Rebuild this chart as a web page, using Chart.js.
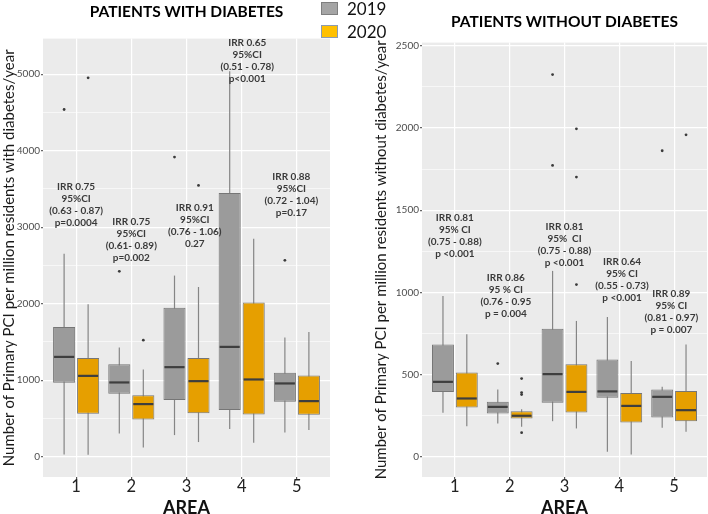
<!DOCTYPE html>
<html>
<head>
<meta charset="utf-8">
<script src="https://cdn.jsdelivr.net/npm/chart.js@4.4.1/dist/chart.umd.min.js"></script>
<style>
  body { margin: 0; background: #fff; width: 708px; height: 514px; position: relative; overflow: hidden; font-family: Lato, sans-serif; }
  #left { position: absolute; left: 0; top: 0; }
  #right { position: absolute; left: 360px; top: 0; }
  #legend { position: absolute; left: 321px; top: 1px; z-index: 2; font-size: 17px; color: #111; }
  .item { display: flex; align-items: center; height: 15px; margin-bottom: 8px; }
  .swatch { width: 17px; height: 13px; margin-right: 9px; box-sizing: border-box; }
</style>
</head>
<body>
<canvas id="left" width="336" height="514"></canvas>
<canvas id="right" width="348" height="514"></canvas>
<div id="legend"></div>
<script>
const areas = [1, 2, 3, 4, 5]
const years = ['2019', '2020']

// patients with diabetes (per million residents / year)
const dmLow19 = [30, 305, 283, 361, 318]
const dmQ1_19 = [966, 823, 740, 610, 718]
const dmMed19 = [1305, 971, 1171, 1436, 958]
const dmQ3_19 = [1697, 1210, 1946, 3447, 1097]
const dmHigh19 = [2655, 1428, 2368, 5039, 1559]
const dmOut19 = [[4539], [2424], [3917], [], [2568]]

const dmLow20 = [26, 122, 192, 183, 349]
const dmQ1_20 = [561, 488, 570, 553, 549]
const dmMed20 = [1057, 688, 988, 1010, 727]
const dmQ3_20 = [1292, 805, 1292, 2015, 1063]
const dmHigh20 = [1993, 1141, 2219, 2851, 1632]
const dmOut20 = [[4953], [1523], [3547], [], []]

// patients without diabetes
const noLow19 = [269, 204, 218, 32, 178]
const noQ1_19 = [396, 265, 330, 360, 241]
const noMed19 = [457, 305, 504, 399, 366]
const noQ3_19 = [684, 336, 779, 593, 411]
const noHigh19 = [979, 411, 1131, 851, 427]
const noOut19 = [[], [568], [2324, 1772], [], [1861]]

const noLow20 = [188, 184, 174, 16, 154]
const noQ1_20 = [301, 235, 271, 210, 218]
const noMed20 = [356, 251, 396, 311, 285]
const noQ3_20 = [514, 279, 564, 390, 402]
const noHigh20 = [746, 291, 827, 583, 684]
const noOut20 = [[], [477, 392, 380, 148], [1994, 1701, 1048], [], [1958]]

const dmTicks = [0, 1000, 2000, 3000, 4000, 5000]
const noTicks = [0, 500, 1000, 1500, 2000, 2500]

const dmNotes = [
  ['IRR 0.75', '95%CI', '(0.63 - 0.87)', 'p=0.0004'],
  ['IRR 0.75', '95%CI', '(0.61- 0.89)', 'p=0.002'],
  ['IRR 0.91', '95%CI', '(0.76 - 1.06)', '0.27'],
  ['IRR 0.65', '95%CI', '(0.51 - 0.78)', 'p<0.001'],
  ['IRR 0.88', '95%CI', '(0.72 - 1.04)', 'p=0.17']
]
const noNotes = [
  ['IRR 0.81', '95% CI', '(0.75 - 0.88)', 'p <0.001'],
  ['IRR 0.86', '95 % CI', '(0.76 - 0.95', 'p = 0.004'],
  ['IRR 0.81', '95%  CI', '(0.75 - 0.88)', 'p <0.001'],
  ['IRR 0.64', '95% CI', '(0.55 - 0.73)', 'p <0.001'],
  ['IRR 0.89', '95% CI', '(0.81 - 0.97)', 'p = 0.007']
]
// where each note block sits (top line), in axis units
const dmNoteY = [3534, 3077, 3257, 5413, 3664]
const dmNoteDx = [0, 0, 0.15, 0.1, -0.1]
const noNoteY = [1456, 1092, 1402, 1189, 995]
const noNoteDx = [0, -0.07, 0, 0.05, -0.05]

const fills = ['#9b9b9b', '#e69f00']
const swatches = [['#a5a5a5', '#7f7f7f'], ['#ffc000', '#8c9bb0']]

// legend
document.getElementById('legend').innerHTML = years.map((y, i) =>
  `<div class="item"><span class="swatch" style="background:${swatches[i][0]};border:1px solid ${swatches[i][1]}"></span>${y}</div>`
).join('')

const boxParts = {
  id: 'boxParts',
  beforeDraw (chart) {
    const { ctx, chartArea: a } = chart
    ctx.save()
    ctx.fillStyle = '#ebebeb'
    ctx.fillRect(a.left, a.top, a.width, a.height)
    ctx.restore()
  },
  beforeDatasetsDraw (chart) {
    const { ctx } = chart
    const y = chart.scales.y
    ctx.save()
    ctx.strokeStyle = '#858585'
    ctx.lineWidth = 1.2
    chart.data.datasets.forEach((ds, d) => {
      chart.getDatasetMeta(d).data.forEach((bar, i) => {
        ctx.beginPath()
        ctx.moveTo(bar.x, y.getPixelForValue(ds.low[i]))
        ctx.lineTo(bar.x, y.getPixelForValue(ds.high[i]))
        ctx.stroke()
      })
    })
    ctx.restore()
  },
  afterDatasetsDraw (chart) {
    const { ctx } = chart
    const y = chart.scales.y
    ctx.save()
    chart.data.datasets.forEach((ds, d) => {
      chart.getDatasetMeta(d).data.forEach((bar, i) => {
        const half = bar.width / 2 - 1
        const py = y.getPixelForValue(ds.med[i])
        ctx.strokeStyle = '#3e3e3e'
        ctx.lineWidth = 2.2
        ctx.beginPath()
        ctx.moveTo(bar.x - half, py)
        ctx.lineTo(bar.x + half, py)
        ctx.stroke()
        ctx.fillStyle = '#3a3a3a'
        ds.out[i].forEach(v => {
          ctx.beginPath()
          ctx.arc(bar.x, y.getPixelForValue(v), 1.4, 0, Math.PI * 2)
          ctx.fill()
        })
      })
    })
    ctx.restore()
  },
  afterDraw (chart) {
    const { ctx } = chart
    const notes = chart.options.plugins.boxParts
    const x = chart.scales.x
    const y = chart.scales.y
    ctx.save()
    ctx.font = 'bold 10px Lato'
    ctx.fillStyle = '#3a3a3a'
    ctx.textAlign = 'center'
    ctx.textBaseline = 'middle'
    notes.text.forEach((lines, i) => {
      const px = x.getPixelForValue(areas[i] + notes.dx[i])
      const py = y.getPixelForValue(notes.y[i])
      lines.forEach((t, k) => ctx.fillText(t, px, py + k * 12))
    })
    ctx.restore()
  }
}

function makeSets (q1s, q3s, meds, lows, highs, outs) {
  return years.map((yr, s) => ({
    label: yr,
    data: areas.map((a, i) => [q1s[s][i], q3s[s][i]]),
    med: meds[s],
    low: lows[s],
    high: highs[s],
    out: outs[s],
    backgroundColor: fills[s],
    borderColor: '#767676',
    borderWidth: 1,
    borderSkipped: false,
    categoryPercentage: 0.87,
    barPercentage: 0.92
  }))
}

function makeChart (id, opts) {
  const majors = opts.ticks
  return new Chart(document.getElementById(id), {
    type: 'bar',
    data: {
      labels: areas,
      datasets: opts.datasets
    },
    plugins: [boxParts],
    options: {
      responsive: false,
      animation: false,
      devicePixelRatio: 1,
      layout: { padding: { left: 0, right: opts.padRight, top: 0, bottom: 0 } },
      plugins: {
        legend: { display: false },
        tooltip: { enabled: false },
        title: {
          display: true,
          text: opts.title,
          fullSize: false,
          color: '#000',
          font: { family: 'Lato', size: 15.5, weight: 'bold' },
          padding: opts.titlePad
        },
        boxParts: { text: opts.notes, y: opts.noteY, dx: opts.noteDx }
      },
      scales: {
        x: {
          type: 'linear',
          min: 0.4,
          max: 5.6,
          offset: false,
          afterBuildTicks: s => { s.ticks = areas.map(v => ({ value: v })) },
          afterFit: s => { s.height = 37 },
          grid: { offset: false, color: '#ffffff', lineWidth: 1.2, tickColor: '#555', tickLength: 2 },
          border: { display: false },
          ticks: { color: '#222', padding: -2, font: { family: 'Lato', size: 16.5 }, callback: v => String(v) },
          title: {
            display: true,
            text: 'AREA',
            color: '#111',
            font: { family: 'Lato', size: 18, weight: 'bold' },
            padding: { top: 0, bottom: -5 }
          }
        },
        y: {
          min: opts.min,
          max: opts.max,
          stacked: false,
          afterBuildTicks: s => {
            const step = majors[1] - majors[0]
            s.ticks = []
            majors.forEach(v => {
              s.ticks.push({ value: v, major: true })
              if (v + step / 2 < opts.max) s.ticks.push({ value: v + step / 2, major: false })
            })
          },
          afterFit: s => { s.width = opts.axisWidth },
          grid: {
            color: '#ffffff',
            lineWidth: c => (c.tick && c.tick.major ? 1.2 : 0.6),
            tickColor: c => (c.tick && c.tick.major ? '#666' : 'rgba(0,0,0,0)'),
            tickLength: 2
          },
          border: { display: false },
          ticks: {
            autoSkip: false,
            color: '#4d4d4d',
            padding: 1,
            font: { family: 'Lato', size: 10 },
            callback: (v, i, ticks) => (ticks[i].major ? String(v) : '')
          },
          title: {
            display: true,
            text: opts.yTitle,
            color: '#1a1a1a',
            font: { family: 'Lato', size: 15 },
            padding: { top: opts.yTitlePad, bottom: 0 }
          }
        }
      }
    }
  })
}

makeChart('left', {
  title: 'PATIENTS WITH DIABETES',
  titlePad: { top: 3, bottom: 17 },
  yTitle: 'Number of Primary PCI per million residents with diabetes/year',
  yTitlePad: 0,
  axisWidth: 43,
  padRight: 6,
  min: -265,
  max: 5466,
  ticks: dmTicks,
  notes: dmNotes,
  noteY: dmNoteY,
  noteDx: dmNoteDx,
  datasets: makeSets([dmQ1_19, dmQ1_20], [dmQ3_19, dmQ3_20], [dmMed19, dmMed20],
    [dmLow19, dmLow20], [dmHigh19, dmHigh20], [dmOut19, dmOut20])
})

makeChart('right', {
  title: 'PATIENTS WITHOUT DIABETES',
  titlePad: { top: 13, bottom: 11 },
  yTitle: 'Number of Primary PCI per million residents without diabetes/year',
  yTitlePad: 12,
  axisWidth: 62,
  padRight: 1,
  min: -121,
  max: 2518,
  ticks: noTicks,
  notes: noNotes,
  noteY: noNoteY,
  noteDx: noNoteDx,
  datasets: makeSets([noQ1_19, noQ1_20], [noQ3_19, noQ3_20], [noMed19, noMed20],
    [noLow19, noLow20], [noHigh19, noHigh20], [noOut19, noOut20])
})
</script>
</body>
</html>
